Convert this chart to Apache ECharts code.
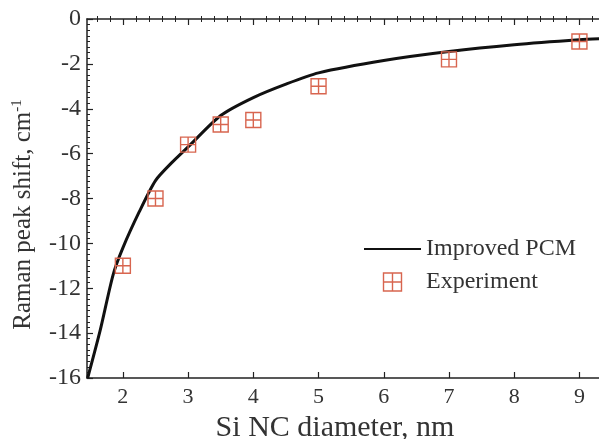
<!DOCTYPE html>
<html>
<head>
<meta charset="utf-8">
<script src="https://cdn.jsdelivr.net/npm/echarts@6/dist/echarts.min.js"></script>
<style>
  html, body { margin: 0; padding: 0; background: #fff; }
  #chart { width: 599px; height: 439px; }
</style>
</head>
<body>
<div id="chart"></div>
<script>
// Improved phonon-confinement model: Raman shift vs. nanocrystal size
const modelDiameter = [1.46, 1.65, 1.85, 2.0, 2.25, 2.5, 2.75, 3.0, 3.5, 4.0, 4.5, 5.0, 6.0, 7.0, 8.0, 9.0, 9.4];
const modelShift    = [-16.0, -13.9, -11.4, -10.2, -8.6, -7.2, -6.4, -5.7, -4.3, -3.5, -2.9, -2.4, -1.85, -1.45, -1.15, -0.93, -0.87];

// Measured Raman peak shifts
const expDiameter = [2, 2.5, 3, 3.5, 4, 5, 7, 9];
const expShift    = [-11, -8, -5.6, -4.7, -4.5, -3, -1.8, -1];

// Axis tick labels
const xTicks = [2, 3, 4, 5, 6, 7, 8, 9];
const yTicks = [0, -2, -4, -6, -8, -10, -12, -14, -16];

const seriesNames = ['Improved PCM', 'Experiment'];
const xTitle = 'Si NC diameter, nm';

const serif = 'Liberation Serif';
const textColor = '#333';
const axisColor = '#222';
const markerColor = '#d8654f';
const boxCross = 'path://M0,0H10V10H0Z M5,0V10 M0,5H10';

const X_MIN = 1.45, X_MAX = 9.3;
// minor ticks every 0.2 nm along the diameter axis
const xMinor = [];
for (let k = 8; k <= 46; k++) {
  const v = +(k * 0.2).toFixed(2);
  if (v > X_MIN && v < X_MAX && !xTicks.includes(v)) xMinor.push(v);
}

const chart = echarts.init(document.getElementById('chart'), null, { renderer: 'canvas' });

const lineStyleAxis = { color: axisColor, width: 1.5 };

function xAxisDef(extra) {
  return Object.assign({
    type: 'value',
    min: X_MIN,
    max: X_MAX,
    splitLine: { show: false },
    axisLine: { show: true, onZero: false, lineStyle: lineStyleAxis },
    axisTick: { show: true, inside: true, length: 6, customValues: xTicks, lineStyle: { color: axisColor, width: 1.2 } },
    axisLabel: { show: false }
  }, extra);
}

chart.setOption({
  animation: false,
  backgroundColor: '#fff',
  grid: { left: 87, top: 19, right: 0, bottom: 61, containLabel: false, outerBoundsMode: 'none' },
  xAxis: [
    xAxisDef({
      position: 'bottom',
      name: xTitle,
      nameLocation: 'middle',
      nameGap: 26,
      nameTextStyle: { fontFamily: serif, fontSize: 30, color: textColor, padding: [0, 16, 0, 0] },
      axisLabel: { show: true, customValues: xTicks, fontFamily: serif, fontSize: 22, color: textColor, margin: 8 }
    }),
    xAxisDef({ position: 'top' }),
    // minor ticks, bottom and top
    xAxisDef({ position: 'bottom', axisLine: { show: false },
      axisTick: { show: true, inside: true, length: 3, customValues: xMinor, lineStyle: { color: axisColor, width: 1 } } }),
    xAxisDef({ position: 'top', axisLine: { show: false },
      axisTick: { show: true, inside: true, length: 3, customValues: xMinor, lineStyle: { color: axisColor, width: 1 } } })
  ],
  yAxis: {
    type: 'value',
    min: -16,
    max: 0,
    interval: 2,
    name: '{t|Raman peak shift, cm}{s|-1}',
    nameLocation: 'middle',
    nameGap: 50,
    nameRotate: 90,
    nameTextStyle: {
      padding: [0, 32, 0, 0],
      rich: {
        t: { fontFamily: serif, fontSize: 25, color: textColor },
        s: { fontFamily: serif, fontSize: 15, color: textColor, verticalAlign: 'top', padding: [0, 0, 12, 0] }
      }
    },
    axisLine: { show: true, onZero: false, lineStyle: lineStyleAxis },
    axisTick: { show: true, inside: true, length: 6, lineStyle: { color: axisColor, width: 1.2 } },
    minorTick: { show: true, splitNumber: 8, length: 3, lineStyle: { color: axisColor, width: 1 } },
    splitLine: { show: false },
    axisLabel: { customValues: yTicks, fontFamily: serif, fontSize: 24, color: textColor, margin: 6 }
  },
  legend: {
    orient: 'vertical',
    left: 363,
    top: 237,
    padding: 0,
    itemGap: 9,
    itemWidth: 57,
    itemHeight: 18,
    textStyle: { fontFamily: serif, fontSize: 24, color: textColor },
    data: [
      { name: seriesNames[0], itemStyle: { opacity: 0 } },
      { name: seriesNames[1], icon: boxCross, itemStyle: { color: 'rgba(0,0,0,0)', borderColor: markerColor, borderWidth: 1.4 } }
    ]
  },
  series: [
    {
      name: seriesNames[0],
      type: 'line',
      data: modelDiameter.map((d, i) => [d, modelShift[i]]),
      smooth: 0.25,
      symbol: 'none',
      clip: true,
      lineStyle: { color: '#111', width: 3 },
      itemStyle: { color: '#111' },
      z: 2
    },
    {
      name: seriesNames[1],
      type: 'scatter',
      data: expDiameter.map((d, i) => [d, expShift[i]]),
      symbol: boxCross,
      symbolSize: 15,
      itemStyle: { color: 'rgba(0,0,0,0)', borderColor: markerColor, borderWidth: 1.4, opacity: 1 },
      z: 3
    }
  ]
});
</script>
</body>
</html>
